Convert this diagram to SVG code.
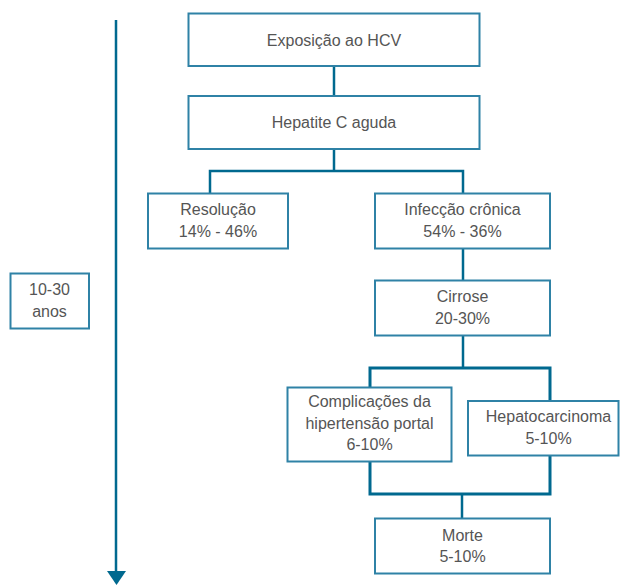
<svg xmlns="http://www.w3.org/2000/svg" width="620" height="585" viewBox="0 0 620 585">
<style>
.box{fill:#fff;stroke:#2f82a6;stroke-width:2}
.t{font-family:"Liberation Sans",Arial,sans-serif;font-size:16px;fill:#555;text-anchor:middle}
.c{fill:none;stroke:#00698f;stroke-width:2.5}
.c2{fill:none;stroke:#00698f;stroke-width:3}
</style>
<g id="connectors">
<line class="c" x1="116" y1="20" x2="116" y2="572"/>
<polygon points="107,571 126,571 116.5,585" fill="#00698f"/>
<line class="c" x1="334" y1="66" x2="334" y2="96"/>
<polyline class="c" points="334,149 334,171"/>
<polyline class="c" points="210,193 210,171 463,171 463,193"/>
<line class="c" x1="463" y1="248" x2="463" y2="280"/>
<line class="c" x1="463" y1="336" x2="463" y2="368"/>
<polyline class="c2" points="370,387 370,368 550,368 550,401"/>
<polyline class="c2" points="370,461 370,494 550,494 550,455"/>
<line class="c" x1="462" y1="494" x2="462" y2="518"/>
</g>
<g id="n-exposicao"><rect class="box" x="188.5" y="13.5" width="291" height="52.5"/><text class="t" x="334" y="46">Exposição ao HCV</text></g>
<g id="n-hepatite"><rect class="box" x="188.5" y="96" width="291" height="53"/><text class="t" x="334" y="128">Hepatite C aguda</text></g>
<g id="n-resolucao"><rect class="box" x="148" y="193.5" width="140" height="55"/><text class="t" x="218" y="215">Resolução</text><text class="t" x="218" y="237">14% - 46%</text></g>
<g id="n-infeccao"><rect class="box" x="375" y="193.5" width="175" height="55"/><text class="t" x="462.5" y="215">Infecção crônica</text><text class="t" x="462.5" y="237">54% - 36%</text></g>
<g id="n-cirrose"><rect class="box" x="375" y="280.5" width="175" height="55"/><text class="t" x="462.5" y="302">Cirrose</text><text class="t" x="462.5" y="324">20-30%</text></g>
<g id="n-complicacoes"><rect class="box" x="287.5" y="387.5" width="164" height="74"/><text class="t" x="369.5" y="407">Complicações da</text><text class="t" x="369.5" y="428.5">hipertensão portal</text><text class="t" x="369.5" y="450">6-10%</text></g>
<g id="n-hepatocarcinoma"><rect class="box" x="468" y="401" width="150.5" height="54.5"/><text class="t" x="548.5" y="422">Hepatocarcinoma</text><text class="t" x="548.5" y="443.5">5-10%</text></g>
<g id="n-morte"><rect class="box" x="375" y="518.5" width="175" height="55"/><text class="t" x="462.5" y="541">Morte</text><text class="t" x="462.5" y="562">5-10%</text></g>
<g id="n-anos"><rect class="box" x="10.5" y="273.5" width="78.5" height="55"/><text class="t" x="49.5" y="294.5">10-30</text><text class="t" x="49.5" y="316.5">anos</text></g>
</svg>
